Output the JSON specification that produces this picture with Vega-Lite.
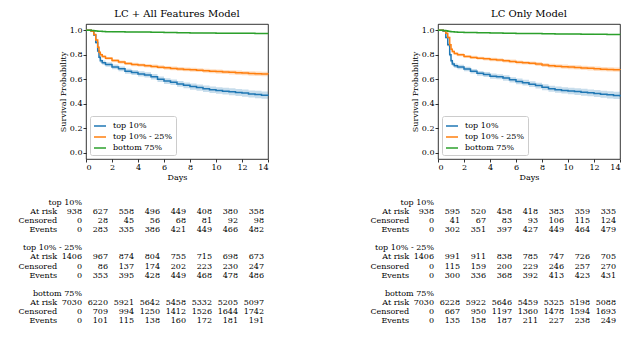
{
"$schema": "https://vega.github.io/schema/vega-lite/v6.json",
"background": "white",
"padding": {"left": 18, "top": 8, "right": 5, "bottom": 5},
"columns": 2,
"spacing": {"row": 16, "column": 98},
"resolve": {"scale": {"color": "independent", "fill": "independent"}, "legend": {"color": "independent", "fill": "independent"}},
"config": {
  "font": "DejaVu Serif",
  "view": {"stroke": null},
  "axis": {"labelFont": "DejaVu Serif", "titleFont": "DejaVu Serif", "labelFontSize": 8, "titleFontSize": 8, "titleFontWeight": "normal", "labelColor": "black", "titleColor": "black", "tickColor": "black", "domainColor": "black", "domainWidth": 0.8, "tickWidth": 0.8, "grid": false, "tickSize": 3, "labelPadding": 1, "titlePadding": 2, "labelOverlap": false},
  "title": {"font": "DejaVu Serif", "fontSize": 10, "fontWeight": "normal", "color": "black", "offset": 5},
  "legend": {"title": null, "orient": "bottom-left", "offset": 4, "fillColor": "white", "strokeColor": "#cccccc", "cornerRadius": 2, "padding": 3, "labelFont": "DejaVu Serif", "labelFontSize": 8, "labelColor": "black", "symbolSize": 144, "symbolStrokeWidth": 1.5, "symbolType": "stroke", "labelOffset": 6, "rowPadding": 0},
  "text": {"font": "DejaVu Serif", "fontSize": 8, "color": "black"}
},
"datasets": {
"surv": [
{"p":"A","g":"top 10%","t":0,"s":1,"lo":1,"hi":1},
{"p":"A","g":"top 10%","t":0.4,"s":0.99,"lo":0.986,"hi":0.994},
{"p":"A","g":"top 10%","t":0.6,"s":0.96,"lo":0.952,"hi":0.968},
{"p":"A","g":"top 10%","t":0.75,"s":0.9,"lo":0.888,"hi":0.912},
{"p":"A","g":"top 10%","t":0.9,"s":0.83,"lo":0.815,"hi":0.845},
{"p":"A","g":"top 10%","t":1.0,"s":0.78,"lo":0.764,"hi":0.796},
{"p":"A","g":"top 10%","t":1.1,"s":0.75,"lo":0.733,"hi":0.767},
{"p":"A","g":"top 10%","t":1.25,"s":0.735,"lo":0.717,"hi":0.753},
{"p":"A","g":"top 10%","t":1.5,"s":0.72,"lo":0.702,"hi":0.738},
{"p":"A","g":"top 10%","t":2,"s":0.7,"lo":0.681,"hi":0.719},
{"p":"A","g":"top 10%","t":2.5,"s":0.685,"lo":0.666,"hi":0.704},
{"p":"A","g":"top 10%","t":3,"s":0.665,"lo":0.645,"hi":0.685},
{"p":"A","g":"top 10%","t":3.5,"s":0.655,"lo":0.635,"hi":0.675},
{"p":"A","g":"top 10%","t":4,"s":0.643,"lo":0.622,"hi":0.664},
{"p":"A","g":"top 10%","t":4.5,"s":0.635,"lo":0.614,"hi":0.656},
{"p":"A","g":"top 10%","t":5,"s":0.62,"lo":0.598,"hi":0.642},
{"p":"A","g":"top 10%","t":5.5,"s":0.6,"lo":0.578,"hi":0.622},
{"p":"A","g":"top 10%","t":6,"s":0.585,"lo":0.562,"hi":0.608},
{"p":"A","g":"top 10%","t":6.5,"s":0.575,"lo":0.552,"hi":0.598},
{"p":"A","g":"top 10%","t":7,"s":0.562,"lo":0.538,"hi":0.586},
{"p":"A","g":"top 10%","t":7.5,"s":0.55,"lo":0.526,"hi":0.574},
{"p":"A","g":"top 10%","t":8,"s":0.54,"lo":0.515,"hi":0.565},
{"p":"A","g":"top 10%","t":8.5,"s":0.532,"lo":0.507,"hi":0.557},
{"p":"A","g":"top 10%","t":9,"s":0.522,"lo":0.496,"hi":0.548},
{"p":"A","g":"top 10%","t":9.5,"s":0.514,"lo":0.488,"hi":0.54},
{"p":"A","g":"top 10%","t":10,"s":0.508,"lo":0.481,"hi":0.535},
{"p":"A","g":"top 10%","t":10.5,"s":0.503,"lo":0.476,"hi":0.53},
{"p":"A","g":"top 10%","t":11,"s":0.498,"lo":0.47,"hi":0.526},
{"p":"A","g":"top 10%","t":11.5,"s":0.492,"lo":0.464,"hi":0.52},
{"p":"A","g":"top 10%","t":12,"s":0.487,"lo":0.458,"hi":0.516},
{"p":"A","g":"top 10%","t":12.5,"s":0.48,"lo":0.451,"hi":0.509},
{"p":"A","g":"top 10%","t":13,"s":0.476,"lo":0.446,"hi":0.506},
{"p":"A","g":"top 10%","t":13.5,"s":0.47,"lo":0.44,"hi":0.5},
{"p":"A","g":"top 10%","t":14,"s":0.466,"lo":0.435,"hi":0.497},
{"p":"A","g":"top 10% - 25%","t":0,"s":1,"lo":1,"hi":1},
{"p":"A","g":"top 10% - 25%","t":0.4,"s":0.99,"lo":0.987,"hi":0.993},
{"p":"A","g":"top 10% - 25%","t":0.6,"s":0.965,"lo":0.959,"hi":0.971},
{"p":"A","g":"top 10% - 25%","t":0.75,"s":0.92,"lo":0.911,"hi":0.929},
{"p":"A","g":"top 10% - 25%","t":0.9,"s":0.86,"lo":0.849,"hi":0.871},
{"p":"A","g":"top 10% - 25%","t":1.0,"s":0.82,"lo":0.808,"hi":0.832},
{"p":"A","g":"top 10% - 25%","t":1.1,"s":0.8,"lo":0.788,"hi":0.812},
{"p":"A","g":"top 10% - 25%","t":1.25,"s":0.785,"lo":0.773,"hi":0.797},
{"p":"A","g":"top 10% - 25%","t":1.5,"s":0.77,"lo":0.758,"hi":0.782},
{"p":"A","g":"top 10% - 25%","t":2,"s":0.752,"lo":0.739,"hi":0.765},
{"p":"A","g":"top 10% - 25%","t":2.5,"s":0.74,"lo":0.727,"hi":0.753},
{"p":"A","g":"top 10% - 25%","t":3,"s":0.728,"lo":0.715,"hi":0.741},
{"p":"A","g":"top 10% - 25%","t":3.5,"s":0.72,"lo":0.706,"hi":0.734},
{"p":"A","g":"top 10% - 25%","t":4,"s":0.715,"lo":0.701,"hi":0.729},
{"p":"A","g":"top 10% - 25%","t":4.5,"s":0.71,"lo":0.696,"hi":0.724},
{"p":"A","g":"top 10% - 25%","t":5,"s":0.704,"lo":0.689,"hi":0.719},
{"p":"A","g":"top 10% - 25%","t":5.5,"s":0.698,"lo":0.683,"hi":0.713},
{"p":"A","g":"top 10% - 25%","t":6,"s":0.693,"lo":0.678,"hi":0.708},
{"p":"A","g":"top 10% - 25%","t":6.5,"s":0.688,"lo":0.673,"hi":0.703},
{"p":"A","g":"top 10% - 25%","t":7,"s":0.684,"lo":0.668,"hi":0.7},
{"p":"A","g":"top 10% - 25%","t":7.5,"s":0.68,"lo":0.664,"hi":0.696},
{"p":"A","g":"top 10% - 25%","t":8,"s":0.677,"lo":0.661,"hi":0.693},
{"p":"A","g":"top 10% - 25%","t":8.5,"s":0.674,"lo":0.658,"hi":0.69},
{"p":"A","g":"top 10% - 25%","t":9,"s":0.669,"lo":0.652,"hi":0.686},
{"p":"A","g":"top 10% - 25%","t":9.5,"s":0.665,"lo":0.648,"hi":0.682},
{"p":"A","g":"top 10% - 25%","t":10,"s":0.662,"lo":0.645,"hi":0.679},
{"p":"A","g":"top 10% - 25%","t":10.5,"s":0.659,"lo":0.642,"hi":0.676},
{"p":"A","g":"top 10% - 25%","t":11,"s":0.656,"lo":0.639,"hi":0.673},
{"p":"A","g":"top 10% - 25%","t":11.5,"s":0.653,"lo":0.635,"hi":0.671},
{"p":"A","g":"top 10% - 25%","t":12,"s":0.65,"lo":0.632,"hi":0.668},
{"p":"A","g":"top 10% - 25%","t":12.5,"s":0.647,"lo":0.629,"hi":0.665},
{"p":"A","g":"top 10% - 25%","t":13,"s":0.645,"lo":0.627,"hi":0.663},
{"p":"A","g":"top 10% - 25%","t":13.5,"s":0.643,"lo":0.625,"hi":0.661},
{"p":"A","g":"top 10% - 25%","t":14,"s":0.641,"lo":0.623,"hi":0.659},
{"p":"A","g":"bottom 75%","t":0,"s":1,"lo":1,"hi":1},
{"p":"A","g":"bottom 75%","t":0.4,"s":0.998,"lo":0.997,"hi":0.999},
{"p":"A","g":"bottom 75%","t":0.6,"s":0.996,"lo":0.994,"hi":0.998},
{"p":"A","g":"bottom 75%","t":0.75,"s":0.993,"lo":0.991,"hi":0.995},
{"p":"A","g":"bottom 75%","t":0.9,"s":0.991,"lo":0.989,"hi":0.993},
{"p":"A","g":"bottom 75%","t":1.0,"s":0.99,"lo":0.988,"hi":0.992},
{"p":"A","g":"bottom 75%","t":1.25,"s":0.988,"lo":0.986,"hi":0.99},
{"p":"A","g":"bottom 75%","t":1.5,"s":0.987,"lo":0.985,"hi":0.989},
{"p":"A","g":"bottom 75%","t":2,"s":0.986,"lo":0.983,"hi":0.989},
{"p":"A","g":"bottom 75%","t":3,"s":0.985,"lo":0.982,"hi":0.988},
{"p":"A","g":"bottom 75%","t":4,"s":0.984,"lo":0.981,"hi":0.987},
{"p":"A","g":"bottom 75%","t":5,"s":0.982,"lo":0.979,"hi":0.985},
{"p":"A","g":"bottom 75%","t":6,"s":0.98,"lo":0.977,"hi":0.983},
{"p":"A","g":"bottom 75%","t":7,"s":0.979,"lo":0.976,"hi":0.982},
{"p":"A","g":"bottom 75%","t":8,"s":0.977,"lo":0.974,"hi":0.98},
{"p":"A","g":"bottom 75%","t":9,"s":0.976,"lo":0.973,"hi":0.979},
{"p":"A","g":"bottom 75%","t":10,"s":0.975,"lo":0.972,"hi":0.978},
{"p":"A","g":"bottom 75%","t":11,"s":0.9745,"lo":0.971,"hi":0.978},
{"p":"A","g":"bottom 75%","t":12,"s":0.974,"lo":0.97,"hi":0.978},
{"p":"A","g":"bottom 75%","t":13,"s":0.973,"lo":0.969,"hi":0.977},
{"p":"A","g":"bottom 75%","t":14,"s":0.972,"lo":0.968,"hi":0.976},
{"p":"B","g":"top 10%","t":0,"s":1,"lo":1,"hi":1},
{"p":"B","g":"top 10%","t":0.4,"s":0.99,"lo":0.986,"hi":0.994},
{"p":"B","g":"top 10%","t":0.6,"s":0.94,"lo":0.931,"hi":0.949},
{"p":"B","g":"top 10%","t":0.75,"s":0.88,"lo":0.867,"hi":0.893},
{"p":"B","g":"top 10%","t":0.9,"s":0.8,"lo":0.784,"hi":0.816},
{"p":"B","g":"top 10%","t":1.0,"s":0.75,"lo":0.733,"hi":0.767},
{"p":"B","g":"top 10%","t":1.1,"s":0.725,"lo":0.707,"hi":0.743},
{"p":"B","g":"top 10%","t":1.25,"s":0.71,"lo":0.692,"hi":0.728},
{"p":"B","g":"top 10%","t":1.5,"s":0.7,"lo":0.682,"hi":0.718},
{"p":"B","g":"top 10%","t":2,"s":0.683,"lo":0.664,"hi":0.702},
{"p":"B","g":"top 10%","t":2.5,"s":0.665,"lo":0.646,"hi":0.684},
{"p":"B","g":"top 10%","t":3,"s":0.648,"lo":0.628,"hi":0.668},
{"p":"B","g":"top 10%","t":3.5,"s":0.638,"lo":0.618,"hi":0.658},
{"p":"B","g":"top 10%","t":4,"s":0.625,"lo":0.604,"hi":0.646},
{"p":"B","g":"top 10%","t":4.5,"s":0.62,"lo":0.599,"hi":0.641},
{"p":"B","g":"top 10%","t":5,"s":0.61,"lo":0.588,"hi":0.632},
{"p":"B","g":"top 10%","t":5.5,"s":0.595,"lo":0.573,"hi":0.617},
{"p":"B","g":"top 10%","t":6,"s":0.582,"lo":0.559,"hi":0.605},
{"p":"B","g":"top 10%","t":6.5,"s":0.572,"lo":0.549,"hi":0.595},
{"p":"B","g":"top 10%","t":7,"s":0.56,"lo":0.536,"hi":0.584},
{"p":"B","g":"top 10%","t":7.5,"s":0.548,"lo":0.524,"hi":0.572},
{"p":"B","g":"top 10%","t":8,"s":0.535,"lo":0.51,"hi":0.56},
{"p":"B","g":"top 10%","t":8.5,"s":0.522,"lo":0.497,"hi":0.547},
{"p":"B","g":"top 10%","t":9,"s":0.515,"lo":0.489,"hi":0.541},
{"p":"B","g":"top 10%","t":9.5,"s":0.509,"lo":0.483,"hi":0.535},
{"p":"B","g":"top 10%","t":10,"s":0.504,"lo":0.477,"hi":0.531},
{"p":"B","g":"top 10%","t":10.5,"s":0.499,"lo":0.472,"hi":0.526},
{"p":"B","g":"top 10%","t":11,"s":0.494,"lo":0.466,"hi":0.522},
{"p":"B","g":"top 10%","t":11.5,"s":0.489,"lo":0.461,"hi":0.517},
{"p":"B","g":"top 10%","t":12,"s":0.484,"lo":0.455,"hi":0.513},
{"p":"B","g":"top 10%","t":12.5,"s":0.478,"lo":0.449,"hi":0.507},
{"p":"B","g":"top 10%","t":13,"s":0.473,"lo":0.443,"hi":0.503},
{"p":"B","g":"top 10%","t":13.5,"s":0.468,"lo":0.438,"hi":0.498},
{"p":"B","g":"top 10%","t":14,"s":0.46,"lo":0.429,"hi":0.491},
{"p":"B","g":"top 10% - 25%","t":0,"s":1,"lo":1,"hi":1},
{"p":"B","g":"top 10% - 25%","t":0.4,"s":0.995,"lo":0.993,"hi":0.997},
{"p":"B","g":"top 10% - 25%","t":0.6,"s":0.975,"lo":0.97,"hi":0.98},
{"p":"B","g":"top 10% - 25%","t":0.75,"s":0.94,"lo":0.932,"hi":0.948},
{"p":"B","g":"top 10% - 25%","t":0.9,"s":0.88,"lo":0.869,"hi":0.891},
{"p":"B","g":"top 10% - 25%","t":1.0,"s":0.845,"lo":0.833,"hi":0.857},
{"p":"B","g":"top 10% - 25%","t":1.1,"s":0.825,"lo":0.813,"hi":0.837},
{"p":"B","g":"top 10% - 25%","t":1.25,"s":0.81,"lo":0.798,"hi":0.822},
{"p":"B","g":"top 10% - 25%","t":1.5,"s":0.8,"lo":0.788,"hi":0.812},
{"p":"B","g":"top 10% - 25%","t":2,"s":0.786,"lo":0.774,"hi":0.798},
{"p":"B","g":"top 10% - 25%","t":2.5,"s":0.778,"lo":0.765,"hi":0.791},
{"p":"B","g":"top 10% - 25%","t":3,"s":0.771,"lo":0.758,"hi":0.784},
{"p":"B","g":"top 10% - 25%","t":3.5,"s":0.766,"lo":0.753,"hi":0.779},
{"p":"B","g":"top 10% - 25%","t":4,"s":0.761,"lo":0.747,"hi":0.775},
{"p":"B","g":"top 10% - 25%","t":4.5,"s":0.757,"lo":0.743,"hi":0.771},
{"p":"B","g":"top 10% - 25%","t":5,"s":0.751,"lo":0.737,"hi":0.765},
{"p":"B","g":"top 10% - 25%","t":5.5,"s":0.745,"lo":0.73,"hi":0.76},
{"p":"B","g":"top 10% - 25%","t":6,"s":0.738,"lo":0.723,"hi":0.753},
{"p":"B","g":"top 10% - 25%","t":6.5,"s":0.734,"lo":0.719,"hi":0.749},
{"p":"B","g":"top 10% - 25%","t":7,"s":0.73,"lo":0.715,"hi":0.745},
{"p":"B","g":"top 10% - 25%","t":7.5,"s":0.724,"lo":0.708,"hi":0.74},
{"p":"B","g":"top 10% - 25%","t":8,"s":0.716,"lo":0.7,"hi":0.732},
{"p":"B","g":"top 10% - 25%","t":8.5,"s":0.71,"lo":0.694,"hi":0.726},
{"p":"B","g":"top 10% - 25%","t":9,"s":0.706,"lo":0.69,"hi":0.722},
{"p":"B","g":"top 10% - 25%","t":9.5,"s":0.702,"lo":0.685,"hi":0.719},
{"p":"B","g":"top 10% - 25%","t":10,"s":0.699,"lo":0.682,"hi":0.716},
{"p":"B","g":"top 10% - 25%","t":10.5,"s":0.696,"lo":0.679,"hi":0.713},
{"p":"B","g":"top 10% - 25%","t":11,"s":0.692,"lo":0.675,"hi":0.709},
{"p":"B","g":"top 10% - 25%","t":11.5,"s":0.689,"lo":0.672,"hi":0.706},
{"p":"B","g":"top 10% - 25%","t":12,"s":0.685,"lo":0.667,"hi":0.703},
{"p":"B","g":"top 10% - 25%","t":12.5,"s":0.682,"lo":0.664,"hi":0.7},
{"p":"B","g":"top 10% - 25%","t":13,"s":0.68,"lo":0.662,"hi":0.698},
{"p":"B","g":"top 10% - 25%","t":13.5,"s":0.678,"lo":0.66,"hi":0.696},
{"p":"B","g":"top 10% - 25%","t":14,"s":0.676,"lo":0.658,"hi":0.694},
{"p":"B","g":"bottom 75%","t":0,"s":1,"lo":1,"hi":1},
{"p":"B","g":"bottom 75%","t":0.4,"s":0.998,"lo":0.997,"hi":0.999},
{"p":"B","g":"bottom 75%","t":0.6,"s":0.995,"lo":0.993,"hi":0.997},
{"p":"B","g":"bottom 75%","t":0.75,"s":0.991,"lo":0.989,"hi":0.993},
{"p":"B","g":"bottom 75%","t":0.9,"s":0.988,"lo":0.986,"hi":0.99},
{"p":"B","g":"bottom 75%","t":1.0,"s":0.986,"lo":0.984,"hi":0.988},
{"p":"B","g":"bottom 75%","t":1.25,"s":0.984,"lo":0.982,"hi":0.986},
{"p":"B","g":"bottom 75%","t":1.5,"s":0.982,"lo":0.98,"hi":0.984},
{"p":"B","g":"bottom 75%","t":2,"s":0.981,"lo":0.978,"hi":0.984},
{"p":"B","g":"bottom 75%","t":3,"s":0.979,"lo":0.976,"hi":0.982},
{"p":"B","g":"bottom 75%","t":4,"s":0.977,"lo":0.974,"hi":0.98},
{"p":"B","g":"bottom 75%","t":5,"s":0.975,"lo":0.972,"hi":0.978},
{"p":"B","g":"bottom 75%","t":6,"s":0.973,"lo":0.97,"hi":0.976},
{"p":"B","g":"bottom 75%","t":7,"s":0.972,"lo":0.969,"hi":0.975},
{"p":"B","g":"bottom 75%","t":8,"s":0.97,"lo":0.967,"hi":0.973},
{"p":"B","g":"bottom 75%","t":9,"s":0.969,"lo":0.966,"hi":0.972},
{"p":"B","g":"bottom 75%","t":10,"s":0.968,"lo":0.965,"hi":0.971},
{"p":"B","g":"bottom 75%","t":11,"s":0.967,"lo":0.964,"hi":0.97},
{"p":"B","g":"bottom 75%","t":12,"s":0.966,"lo":0.963,"hi":0.969},
{"p":"B","g":"bottom 75%","t":13,"s":0.965,"lo":0.962,"hi":0.968},
{"p":"B","g":"bottom 75%","t":14,"s":0.964,"lo":0.96,"hi":0.968}
],
"tab": [
{"p":"A","r":1,"0":938,"2":627,"4":558,"6":496,"8":449,"10":408,"12":380,"14":358},
{"p":"A","r":2,"0":0,"2":28,"4":45,"6":56,"8":68,"10":81,"12":92,"14":98},
{"p":"A","r":3,"0":0,"2":283,"4":335,"6":386,"8":421,"10":449,"12":466,"14":482},
{"p":"A","r":6,"0":1406,"2":967,"4":874,"6":804,"8":755,"10":715,"12":698,"14":673},
{"p":"A","r":7,"0":0,"2":86,"4":137,"6":174,"8":202,"10":223,"12":230,"14":247},
{"p":"A","r":8,"0":0,"2":353,"4":395,"6":428,"8":449,"10":468,"12":478,"14":486},
{"p":"A","r":11,"0":7030,"2":6220,"4":5921,"6":5642,"8":5458,"10":5332,"12":5205,"14":5097},
{"p":"A","r":12,"0":0,"2":709,"4":994,"6":1250,"8":1412,"10":1526,"12":1644,"14":1742},
{"p":"A","r":13,"0":0,"2":101,"4":115,"6":138,"8":160,"10":172,"12":181,"14":191},
{"p":"B","r":1,"0":938,"2":595,"4":520,"6":458,"8":418,"10":383,"12":359,"14":335},
{"p":"B","r":2,"0":0,"2":41,"4":67,"6":83,"8":93,"10":106,"12":115,"14":124},
{"p":"B","r":3,"0":0,"2":302,"4":351,"6":397,"8":427,"10":449,"12":464,"14":479},
{"p":"B","r":6,"0":1406,"2":991,"4":911,"6":838,"8":785,"10":747,"12":726,"14":705},
{"p":"B","r":7,"0":0,"2":115,"4":159,"6":200,"8":229,"10":246,"12":257,"14":270},
{"p":"B","r":8,"0":0,"2":300,"4":336,"6":368,"8":392,"10":413,"12":423,"14":431},
{"p":"B","r":11,"0":7030,"2":6228,"4":5922,"6":5646,"8":5459,"10":5325,"12":5198,"14":5088},
{"p":"B","r":12,"0":0,"2":667,"4":950,"6":1197,"8":1360,"10":1478,"12":1594,"14":1693},
{"p":"B","r":13,"0":0,"2":135,"4":158,"6":187,"8":211,"10":227,"12":238,"14":249}
],
"lab": [
{"r":0,"k":"h","t":"top 10%"},
{"r":1,"k":"s","t":"At risk"},
{"r":2,"k":"s","t":"Censored"},
{"r":3,"k":"s","t":"Events"},
{"r":5,"k":"h","t":"top 10% - 25%"},
{"r":6,"k":"s","t":"At risk"},
{"r":7,"k":"s","t":"Censored"},
{"r":8,"k":"s","t":"Events"},
{"r":10,"k":"h","t":"bottom 75%"},
{"r":11,"k":"s","t":"At risk"},
{"r":12,"k":"s","t":"Censored"},
{"r":13,"k":"s","t":"Events"}
]
},
"concat": [
 {"title": "LC + All Features Model", "width": 182, "height": 135, "view": {"stroke": "black", "strokeWidth": 0.8},
  "data": {"name": "surv"}, "transform": [{"filter": {"field": "p", "equal": "A"}}],
  "encoding": {
   "x": {"field": "t", "type": "quantitative", "scale": {"domain": [0, 14], "nice": false, "zero": false}, "axis": {"values": [0,2,4,6,8,10,12,14], "title": "Days", "domain": false}},
   "y": {"field": "s", "type": "quantitative", "scale": {"domain": [-0.05, 1.05], "nice": false, "zero": false}, "axis": {"values": [0,0.2,0.4,0.6,0.8,1], "format": ".1f", "title": "Survival Probability", "domain": false}}
  },
  "layer": [
   {"mark": {"type": "area", "interpolate": "step-after", "opacity": 0.25}, "encoding": {"y": {"field": "lo", "type": "quantitative"}, "y2": {"field": "hi"}, "fill": {"field": "g", "type": "nominal", "scale": {"domain": ["bottom 75%", "top 10% - 25%", "top 10%"], "range": ["#2ca02c", "#ff7f0e", "#1f77b4"]}, "legend": null}}},
   {"mark": {"type": "line", "interpolate": "step-after", "strokeWidth": 1.5}, "encoding": {"color": {"field": "g", "type": "nominal", "scale": {"domain": ["top 10%", "top 10% - 25%", "bottom 75%"], "range": ["#1f77b4", "#ff7f0e", "#2ca02c"]}}}}
  ]
 },
 {"title": "LC Only Model", "width": 182, "height": 135, "view": {"stroke": "black", "strokeWidth": 0.8},
  "data": {"name": "surv"}, "transform": [{"filter": {"field": "p", "equal": "B"}}],
  "encoding": {
   "x": {"field": "t", "type": "quantitative", "scale": {"domain": [0, 14], "nice": false, "zero": false}, "axis": {"values": [0,2,4,6,8,10,12,14], "title": "Days", "domain": false}},
   "y": {"field": "s", "type": "quantitative", "scale": {"domain": [-0.05, 1.05], "nice": false, "zero": false}, "axis": {"values": [0,0.2,0.4,0.6,0.8,1], "format": ".1f", "title": "Survival Probability", "domain": false}}
  },
  "layer": [
   {"mark": {"type": "area", "interpolate": "step-after", "opacity": 0.25}, "encoding": {"y": {"field": "lo", "type": "quantitative"}, "y2": {"field": "hi"}, "fill": {"field": "g", "type": "nominal", "scale": {"domain": ["bottom 75%", "top 10% - 25%", "top 10%"], "range": ["#2ca02c", "#ff7f0e", "#1f77b4"]}, "legend": null}}},
   {"mark": {"type": "line", "interpolate": "step-after", "strokeWidth": 1.5}, "encoding": {"color": {"field": "g", "type": "nominal", "scale": {"domain": ["top 10%", "top 10% - 25%", "bottom 75%"], "range": ["#1f77b4", "#ff7f0e", "#2ca02c"]}}}}
  ]
 },
 {"width": 182, "height": 128, "layer": [
   {"data": {"name": "tab"}, "transform": [{"filter": {"field": "p", "equal": "A"}}, {"fold": ["0","2","4","6","8","10","12","14"], "as": ["d", "n"]}],
    "mark": {"type": "text", "align": "right", "baseline": "middle", "dx": -4},
    "encoding": {"x": {"field": "d", "type": "quantitative", "scale": {"domain": [0, 14], "nice": false, "zero": false}, "axis": null}, "y": {"field": "r", "type": "quantitative", "scale": {"domain": [-0.5, 13.5], "reverse": true, "nice": false, "zero": false}, "axis": null}, "text": {"field": "n", "type": "nominal"}}},
   {"data": {"name": "lab"}, "transform": [{"filter": {"field": "k", "equal": "h"}}],
    "mark": {"type": "text", "align": "right", "baseline": "middle", "dx": -4},
    "encoding": {"x": {"datum": 0, "type": "quantitative"}, "y": {"field": "r", "type": "quantitative"}, "text": {"field": "t", "type": "nominal"}}},
   {"data": {"name": "lab"}, "transform": [{"filter": {"field": "k", "equal": "s"}}],
    "mark": {"type": "text", "align": "right", "baseline": "middle", "dx": -29},
    "encoding": {"x": {"datum": 0, "type": "quantitative"}, "y": {"field": "r", "type": "quantitative"}, "text": {"field": "t", "type": "nominal"}}}
 ]},
 {"width": 182, "height": 128, "layer": [
   {"data": {"name": "tab"}, "transform": [{"filter": {"field": "p", "equal": "B"}}, {"fold": ["0","2","4","6","8","10","12","14"], "as": ["d", "n"]}],
    "mark": {"type": "text", "align": "right", "baseline": "middle", "dx": -4},
    "encoding": {"x": {"field": "d", "type": "quantitative", "scale": {"domain": [0, 14], "nice": false, "zero": false}, "axis": null}, "y": {"field": "r", "type": "quantitative", "scale": {"domain": [-0.5, 13.5], "reverse": true, "nice": false, "zero": false}, "axis": null}, "text": {"field": "n", "type": "nominal"}}},
   {"data": {"name": "lab"}, "transform": [{"filter": {"field": "k", "equal": "h"}}],
    "mark": {"type": "text", "align": "right", "baseline": "middle", "dx": -4},
    "encoding": {"x": {"datum": 0, "type": "quantitative"}, "y": {"field": "r", "type": "quantitative"}, "text": {"field": "t", "type": "nominal"}}},
   {"data": {"name": "lab"}, "transform": [{"filter": {"field": "k", "equal": "s"}}],
    "mark": {"type": "text", "align": "right", "baseline": "middle", "dx": -29},
    "encoding": {"x": {"datum": 0, "type": "quantitative"}, "y": {"field": "r", "type": "quantitative"}, "text": {"field": "t", "type": "nominal"}}}
 ]}
]
}
